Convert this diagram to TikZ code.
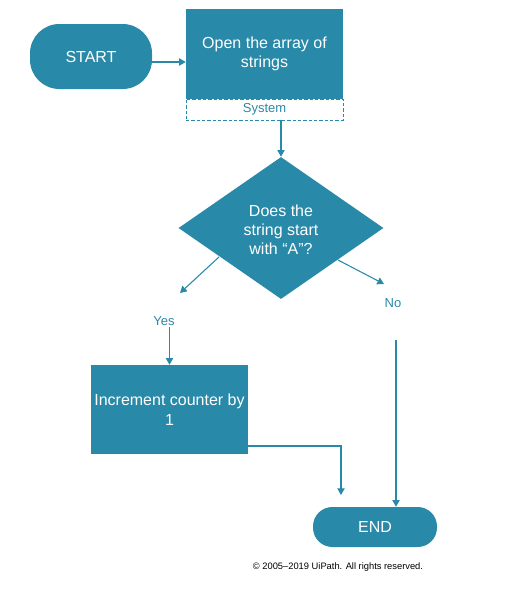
\documentclass[tikz,border=0pt]{standalone}
\usepackage{fontspec}
\setmainfont{Liberation Sans}
\usetikzlibrary{shapes.geometric,arrows.meta}
\definecolor{uiteal}{RGB}{41,137,168}
\begin{document}
\begin{tikzpicture}[x=0.75pt,y=-0.75pt,
  flow/.style={fill=uiteal, text=white, font=\fontsize{12}{14.25}\selectfont, align=center, inner sep=0pt},
  lbl/.style={text=uiteal, font=\fontsize{9.75}{12}\selectfont, inner sep=1pt},
  conn/.style={draw=uiteal, line width=0.8pt, -{Triangle[length=5pt,width=5.5pt]}}]
\useasboundingbox (0,0) rectangle (504,604);
\node[flow, rounded corners=22pt, minimum width=91.5pt, minimum height=48.75pt] (start) at (91,56.5){START};
\node[flow, minimum width=117.75pt, minimum height=67.5pt] (open) at (264.5,54){Open the array of\\strings};
\node[lbl, draw=uiteal, dash pattern=on 2.5pt off 1.5pt, minimum width=117.75pt, minimum height=15.75pt] (sys) at (264.5,109.5){System};
\node[flow, diamond, minimum width=153.75pt, minimum height=106.5pt] (dec) at (281,228){};
\node[flow, fill=none] (dectext) at (281,230){Does the\\string start\\with “A”?};
\node[flow, font=\fontsize{12}{15}\selectfont, minimum width=117.75pt, minimum height=66.75pt] (inc) at (169.5,409.5){Increment counter by\\1};
\node[flow, rounded corners=14.5pt, minimum width=93pt, minimum height=30pt] (end) at (375,527){END};
\node[lbl] (yes) at (164,321){Yes};
\node[lbl] (no) at (393,303){No};
\node[font=\fontsize{7}{8}\selectfont, inner sep=0pt] (copy) at (338,567){© 2005–2019 UiPath. All rights reserved.};
\coordinate (yesbeg) at (219,257);
\coordinate (yesend) at (180,293);
\coordinate (nobeg) at (338,260);
\coordinate (noend) at (384,284);
\coordinate (nodown) at (396,340);
\coordinate (join) at (341,495);
\draw[conn] (start.east |- 0,62) -- (open.west |- 0,62);
\draw[conn] (sys.south -| dec.north) -- (dec.north);
\draw[conn] (yesbeg) -- (yesend);
\draw[conn] (nobeg) -- (noend);
\draw[conn] (yes.south -| inc.north) -- (inc.north);
\draw[conn] (inc.east |- 0,446) -| (join);
\draw[conn] (nodown) -- (nodown |- end.north);
\end{tikzpicture}
\end{document}
